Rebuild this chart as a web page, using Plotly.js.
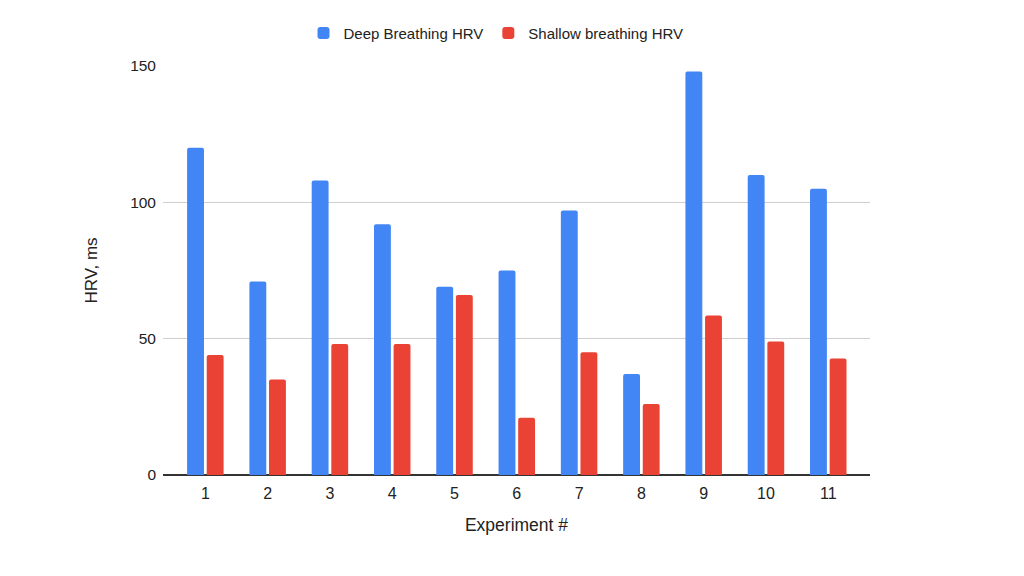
<!DOCTYPE html>
<html>
<head>
<meta charset="utf-8">
<script src="https://cdn.plot.ly/plotly-3.0.1.min.js"></script>
<style>html,body{margin:0;padding:0;background:#fff}#chart{width:1024px;height:576px}</style>
</head>
<body>
<div id="chart"></div>
<script>
const experiments = ["1","2","3","4","5","6","7","8","9","10","11"];
const deepHRV = [120, 71, 108, 92, 69, 75, 97, 37, 148, 110, 105];
const shallowHRV = [44, 35, 48, 48, 66, 21, 45, 26, 58.5, 49, 42.7];
const yTicks = [0, 50, 100, 150];

const font = "'Liberation Sans', Arial, sans-serif";
const traces = [
  {type: "bar", name: "Deep Breathing HRV", x: experiments, y: deepHRV, marker: {color: "#4285F4"}},
  {type: "bar", name: "Shallow breathing HRV", x: experiments, y: shallowHRV, marker: {color: "#EA4335"}}
];
const layout = {
  width: 1024, height: 576,
  margin: {l: 163, r: 154, t: 66, b: 101},
  paper_bgcolor: "#fff", plot_bgcolor: "#fff",
  barmode: "group", bargap: 0.37, bargroupgap: 0.14, barcornerradius: 2,
  font: {family: font, color: "#222", size: 15},
  showlegend: true,
  legend: {orientation: "h", x: 0.471, xanchor: "center", y: 1.08, yanchor: "middle",
           font: {family: font, size: 15, color: "#222"}, traceorder: "normal"},
  xaxis: {type: "category", range: [-0.68, 10.67], showgrid: false, ticks: "", showline: false,
          zeroline: false, ticklabelstandoff: 7, tickfont: {family: font, size: 16, color: "#222"},
          title: {text: "Experiment #", font: {family: font, size: 17.5, color: "#222"}, standoff: 17}},
  yaxis: {range: [0, 150], tickvals: yTicks, showgrid: true, gridcolor: "#cfcfcf", gridwidth: 1,
          zeroline: true, zerolinecolor: "#333", zerolinewidth: 1.3, ticks: "", ticklabelstandoff: 6,
          tickfont: {family: font, size: 15.5, color: "#222"},
          title: {text: "HRV, ms", font: {family: font, size: 17, color: "#222"}, standoff: 28}}
};
Plotly.newPlot("chart", traces, layout, {displayModeBar: false, staticPlot: true});
</script>
</body>
</html>
